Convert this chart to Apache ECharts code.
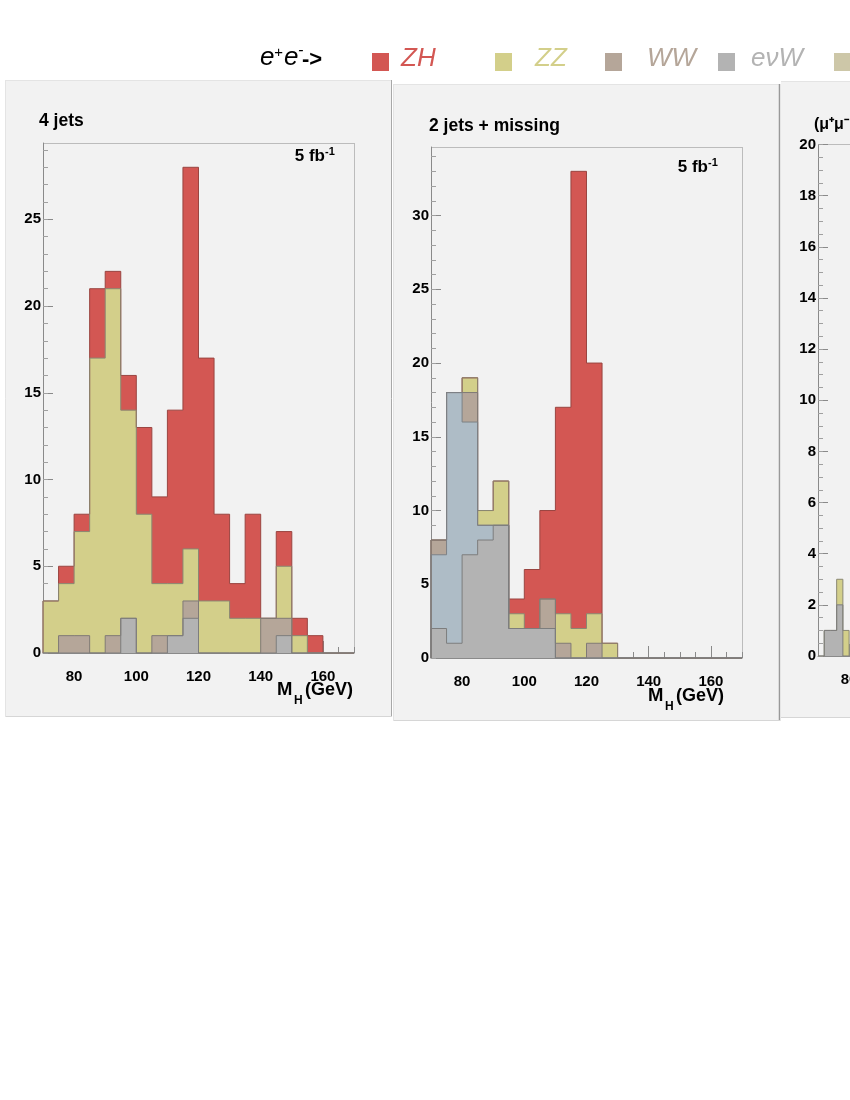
<!DOCTYPE html>
<html><head><meta charset="utf-8">
<script src="https://cdn.jsdelivr.net/npm/echarts@6/dist/echarts.min.js"></script>
<style>html,body{margin:0;padding:0;background:#fff}#c{width:850px;height:1100px}</style>
</head><body><div id="c"></div>
<script>
// ---- histogram bin edges (GeV) ----
const edgesJets = [70,75,80,85,90,95,100,105,110,115,120,125,130,135,140,145,150,155,160,165,170];
const edgesMu   = [70,72,74,76,78,80];

// ---- 4 jets: events per bin for each process ----
const zh4j  = [0,1,1,4,1,2,5,5,10,22,14,5,2,6,0,2,1,1,0,0];
const zz4j  = [3,3,6,17,20,12,8,3,3,3,3,3,2,2,0,3,1,0,0,0];
const ww4j  = [0,1,1,0,1,0,0,1,0,1,0,0,0,0,2,1,0,0,0,0];
const env4j = [0,0,0,0,0,2,0,0,1,2,0,0,0,0,0,1,0,0,0,0];

// ---- 2 jets + missing ----
const zh2j  = [0,0,0,0,0,1,4,6,14,31,17,0,0,0,0,0,0,0,0,0];
const zz2j  = [0,0,1,1,3,1,0,0,2,2,2,1,0,0,0,0,0,0,0,0];
const ww2j  = [1,0,2,0,0,0,0,2,1,0,1,0,0,0,0,0,0,0,0,0];
const oth2j = [5,17,9,1,0,0,0,0,0,0,0,0,0,0,0,0,0,0,0,0];
const env2j = [2,1,7,8,9,2,2,2,0,0,0,0,0,0,0,0,0,0,0,0];

// ---- (mu+mu-) panel (visible part) ----
const zzMu  = [0,0,0,1,1];
const envMu = [0,1,1,2,0];

// ---- tick labels ----
const xTickLabels = [80,100,120,140,160];
const yTicks4j = [0,5,10,15,20,25];
const yTicks2j = [0,5,10,15,20,25,30];
const yTicksMu = [0,2,4,6,8,10,12,14,16,18,20];
const yMax = [29.4, 34.65, 20];

const FONT = 'Liberation Sans, Arial, Helvetica, sans-serif';
const COL = {
  zh:  {fill:'#d35753', line:'#9a4541'},
  zz:  {fill:'#d3cf8a', line:'#8a8872'},
  ww:  {fill:'#b5a699', line:'#807a76'},
  oth: {fill:'#aebcc6', line:'#7d8186'},
  env: {fill:'#b3b3b3', line:'#7d7d7d'}
};

function range(a,b,s){const r=[];for(let v=a;v<=b+1e-9;v+=s)r.push(+v.toFixed(2));return r;}

function stepPoints(edges, vals){
  const p=[[edges[0],0]];
  for(let i=0;i<vals.length;i++) p.push([edges[i],vals[i]]);
  p.push([edges[vals.length],vals[vals.length-1]]);
  p.push([edges[vals.length],0]);
  return p;
}

const series=[];
function addStack(gi, edges, layers){ // layers bottom -> top: [name, key, values]
  const cum=[]; let run=new Array(layers[0][2].length).fill(0);
  layers.forEach(l=>{run=run.map((v,i)=>v+l[2][i]);cum.push({name:l[0],key:l[1],vals:run.slice()});});
  for(let k=cum.length-1;k>=0;k--){
    const c=cum[k];
    series.push({
      type:'line', name:c.name, xAxisIndex:2*gi, yAxisIndex:2*gi,
      data:stepPoints(edges,c.vals), step:'end', symbol:'none', showSymbol:false,
      lineStyle:{color:COL[c.key].line,width:1}, itemStyle:{color:COL[c.key].fill},
      areaStyle:{color:COL[c.key].fill,opacity:1}, silent:true, animation:false, z:2
    });
  }
}
addStack(0, edgesJets, [['eνW','env',env4j],['WW','ww',ww4j],['ZZ','zz',zz4j],['ZH','zh',zh4j]]);
addStack(1, edgesJets, [['eνW','env',env2j],['other','oth',oth2j],['WW','ww',ww2j],['ZZ','zz',zz2j],['ZH','zh',zh2j]]);
addStack(2, edgesMu,   [['eνW','env',envMu],['ZZ','zz',zzMu]]);

const grids=[
  {left:43, top:143, width:311, height:510},
  {left:431,top:147, width:311, height:511},
  {left:818,top:144.5,width:311,height:511.5}
];
const yMajor=[yTicks4j,yTicks2j,yTicksMu];
const yMinorStep=[1,1,0.5];
const xAxes=[], yAxes=[];
const axisCol='#8a8a8a';
grids.forEach((g,gi)=>{
  xAxes.push({type:'value',gridIndex:gi,min:70,max:170,position:'bottom',
    axisLine:{show:true,onZero:false,lineStyle:{color:axisCol}},
    axisTick:{show:true,inside:true,length:12,customValues:xTickLabels,lineStyle:{color:axisCol}},
    axisLabel:{customValues:xTickLabels,fontSize:15,fontWeight:'bold',color:'#000',fontFamily:FONT,margin:16},
    splitLine:{show:false}});
  xAxes.push({type:'value',gridIndex:gi,min:70,max:170,position:'bottom',
    axisLine:{show:false,onZero:false},
    axisTick:{show:true,inside:true,length:6,customValues:range(70,170,5),lineStyle:{color:axisCol}},
    axisLabel:{show:false},splitLine:{show:false}});
  yAxes.push({type:'value',gridIndex:gi,min:0,max:yMax[gi],position:'left',
    axisLine:{show:true,onZero:false,lineStyle:{color:axisCol}},
    axisTick:{show:true,inside:true,length:10,customValues:yMajor[gi],lineStyle:{color:axisCol}},
    axisLabel:{customValues:yMajor[gi],fontSize:15,fontWeight:'bold',color:'#000',fontFamily:FONT,margin:2},
    splitLine:{show:false}});
  yAxes.push({type:'value',gridIndex:gi,min:0,max:yMax[gi],position:'left',
    axisLine:{show:false,onZero:false},
    axisTick:{show:true,inside:true,length:5,customValues:range(0,Math.floor(yMax[gi]),yMinorStep[gi]),lineStyle:{color:'#a0a0a0'}},
    axisLabel:{show:false},splitLine:{show:false}});
});

function T(x,y,text,font,fill,align){
  return {type:'text',z:100,style:{x:x,y:y,text:text,font:font,fill:fill||'#000',textAlign:align||'left',textBaseline:'alphabetic',textVerticalAlign:'bottom'}};
}
function R(x,y,w,h,fill,stroke){return {type:'rect',z:-100,shape:{x:x,y:y,width:w,height:h},style:{fill:fill,stroke:stroke||null,lineWidth:1}};}
function L(x1,y1,x2,y2,c,w){return {type:'line',z:-90,shape:{x1:x1,y1:y1,x2:x2,y2:y2},style:{stroke:c,lineWidth:w||1}};}

const B=s=>'bold '+s+'px '+FONT;
const I=s=>'italic '+s+'px '+FONT;
const graphics=[
  // pads
  R(5,80,387,637,'#f2f2f2'), R(393,84,387,637,'#f2f2f2'), R(781,81,80,637,'#f2f2f2'),
  L(5,80.5,392,80.5,'#e4e4e4'), L(391.5,80,391.5,717,'#a8a8a8'), L(5,716.5,392,716.5,'#d6d6d6'), L(5.5,80,5.5,717,'#e4e4e4'),
  L(393,84.5,780,84.5,'#e4e4e4'), L(779.5,84,779.5,721,'#999',1.5), L(393,720.5,780,720.5,'#d6d6d6'), L(393.5,84,393.5,721,'#e4e4e4'),
  L(781,81.5,850,81.5,'#e4e4e4'), L(781,717.5,850,717.5,'#d6d6d6'),
  // frames (top/right)
  L(43,143.5,354,143.5,'#bcbcbc'), L(354.5,143,354.5,653,'#bcbcbc'),
  L(431,147.5,742,147.5,'#bcbcbc'), L(742.5,147,742.5,658,'#bcbcbc'),
  L(818,144.5,850,144.5,'#bcbcbc'),
  // legend
  T(260,71,'e',I(26)), T(274,60,'+',I(15)), T(284,71,'e',I(26)), T(298,59,'-',I(16)), T(302,71,'->',B(22)),
  R(372,53,17,18,'#d35753'), T(401,71.5,'ZH',I(26),'#d35753'),
  R(495,53,17,18,'#d3cf8a'), T(535,71.5,'ZZ',I(26),'#d3cf8a'),
  R(605,53,17,18,'#b5a699'), T(647,71.5,'WW',I(26),'#b5a699'),
  R(718,53,17,18,'#b3b3b3'), T(751,71.5,'eνW',I(26),'#b3b3b3'),
  R(834,53,17,18,'#cdc7a8'),
  // panel titles
  T(39,130,'4 jets',B(17.5)),
  T(429,135,'2 jets + missing',B(17.5)),
  T(814,133,'(μ⁺μ⁻ + e⁺e⁻) + 2 jets',B(16)),
  // luminosity
  T(325,165,'5 fb',B(17),'#000','right'), T(325,157,'-1',B(11)),
  T(708,176,'5 fb',B(17),'#000','right'), T(708,168,'-1',B(11)),
  // axis titles
  T(277,699,'M',B(18.5)), T(294,707,'H',B(12)), T(305,699,'(GeV)',B(18)),
  T(648,705,'M',B(18.5)), T(665,713,'H',B(12)), T(676,705,'(GeV)',B(18))
];

const chart=echarts.init(document.getElementById('c'),null,{renderer:'canvas'});
chart.setOption({
  animation:false, backgroundColor:'#ffffff',
  grid:grids.map(g=>Object.assign({show:false,containLabel:false,outerBoundsMode:'none'},g)),
  xAxis:xAxes, yAxis:yAxes, series:series, graphic:graphics
});
</script></body></html>
